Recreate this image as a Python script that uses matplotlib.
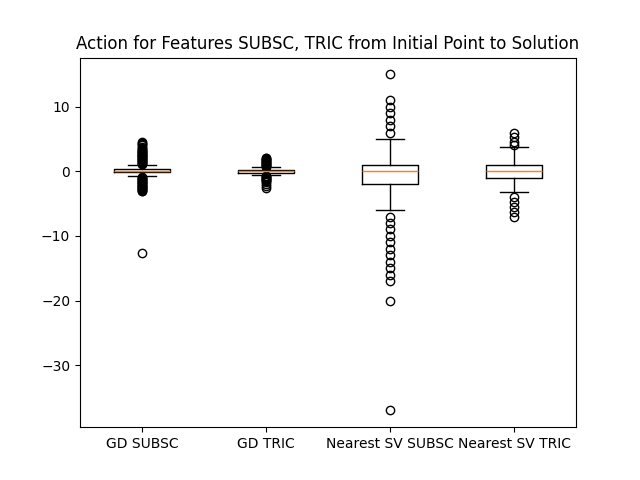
import matplotlib
matplotlib.use("Agg")
import matplotlib.pyplot as plt

labels = ["GD SUBSC", "GD TRIC", "Nearest SV SUBSC", "Nearest SV TRIC"]
medians = [0.1, 0.0, 0.0, 0.0]
q1s = [-0.1, -0.3, -2.0, -1.0]
q3s = [0.4, 0.2, 1.0, 1.0]
whis_low = [-0.8, -0.5, -6.0, -3.2]
whis_high = [1.0, 0.6, 5.0, 3.7]
fliers = [
    [1.1, 1.2, 1.3, 1.4, 1.5, 1.6, 1.7, 1.8, 1.9, 2.0, 2.1, 2.2, 2.3, 2.4, 2.5, 2.6,
     2.7, 2.8, 2.9, 3.0, 3.1, 3.2, 3.3, 3.4, 3.6, 3.8, 4.0, 4.2, 4.4, 4.5,
     -0.9, -1.0, -1.1, -1.2, -1.3, -1.4, -1.5, -1.6, -1.7, -1.8, -1.9, -2.0, -2.1,
     -2.2, -2.3, -2.4, -2.5, -2.6, -2.7, -2.8, -2.9, -3.0, -3.1, -12.6],
    [0.7, 0.8, 0.9, 1.0, 1.1, 1.2, 1.3, 1.4, 1.5, 1.6, 1.7, 1.8, 1.9, 2.0, 2.1,
     -0.7, -0.8, -0.9, -1.0, -1.1, -1.2, -1.3, -1.4, -1.5, -1.7, -2.0, -2.3, -2.6],
    [6, 7, 8, 9, 10, 11, 15,
     -7, -8, -9, -10, -11, -12, -13, -14, -15, -16, -17, -20, -37],
    [4.0, 4.5, 5.3, 6.0, -4.0, -4.7, -5.5, -6.3, -7.0],
]

stats = []
for lab, med, q1, q3, lo, hi, fl in zip(labels, medians, q1s, q3s, whis_low, whis_high, fliers):
    stats.append(dict(label=lab, med=med, q1=q1, q3=q3, whislo=lo, whishi=hi, fliers=fl))

fig, ax = plt.subplots(figsize=(6.4, 4.8), dpi=100)
ax.bxp(stats)
ax.set_title("Action for Features SUBSC, TRIC from Initial Point to Solution")
fig.savefig("out.png")
